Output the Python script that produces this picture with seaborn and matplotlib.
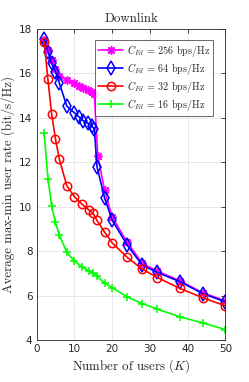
import matplotlib
matplotlib.use("Agg")
import matplotlib.pyplot as plt
import seaborn as sns
import pandas as pd

# ---- data ----
x_256 = [2, 3, 4, 5, 6, 8, 10, 11.2, 12.4, 13.7, 14.6, 15.3, 16.2, 18, 20, 24, 28, 32, 38, 44, 50]
y_256 = [17.5, 17.05, 16.6, 16.2, 15.9, 15.7, 15.55, 15.43, 15.35, 15.25, 15.15, 15.06, 12.3, 10.75, 9.55, 8.4, 7.45, 7.1, 6.66, 6.13, 5.76]

x_64 = [2, 3, 4, 5, 6, 8, 10, 11.2, 12.4, 13.7, 14.6, 15.3, 16.0, 18, 20, 24, 28, 32, 38, 44, 50]
y_64 = [17.55, 16.98, 16.45, 16.08, 15.58, 14.53, 14.23, 14.05, 13.87, 13.75, 13.64, 13.5, 11.8, 10.4, 9.4, 8.27, 7.37, 7.04, 6.62, 6.09, 5.72]

x_32 = [2, 3, 4, 5, 6, 8, 10, 12, 14, 15, 16, 18, 20, 24, 28, 32, 38, 44, 50]
y_32 = [17.43, 15.73, 14.16, 13.05, 12.16, 10.94, 10.45, 10.12, 9.83, 9.7, 9.38, 8.86, 8.38, 7.72, 7.19, 6.81, 6.32, 5.9, 5.54]

x_16 = [2, 3, 4, 5, 6, 8, 10, 12, 14, 15, 16, 18, 20, 24, 28, 32, 38, 44, 50]
y_16 = [13.3, 11.27, 10.03, 9.29, 8.73, 7.95, 7.55, 7.29, 7.1, 7.0, 6.87, 6.57, 6.36, 5.94, 5.64, 5.39, 5.04, 4.77, 4.47]

labels = [r"$C_{Fd}$ = 256 bps/Hz", r"$C_{Fd}$ = 64 bps/Hz",
          r"$C_{Fd}$ = 32 bps/Hz", r"$C_{Fd}$ = 16 bps/Hz"]
x_ticks = [0, 10, 20, 30, 40, 50]
y_ticks = [4, 6, 8, 10, 12, 14, 16, 18]

sns.set_style("white")
plt.rcParams["mathtext.fontset"] = "cm"
plt.rcParams["font.family"] = ["DejaVu Sans"]

fig = plt.figure(figsize=(2.49, 3.82), dpi=100)
ax = fig.add_axes([0.147, 0.110, 0.758, 0.814])

series = [
    (x_256, y_256, "#FF00FF", (8, 2, 0)),
    (x_64, y_64, "#0000FF", "d"),
    (x_32, y_32, "#FF0000", "o"),
    (x_16, y_16, "#00FF00", "+"),
]
msizes = [6, 7, 6, 6]
for (xs, ys, c, m), lab, ms in zip(series, labels, msizes):
    df = pd.DataFrame({"K": xs, "rate": ys})
    sns.lineplot(data=df, x="K", y="rate", ax=ax, color=c, marker=m,
                 markersize=ms, markerfacecolor="none", markeredgecolor=c,
                 markeredgewidth=1.1, linewidth=1.2, label=lab, sort=False,
                 errorbar=None)

ax.set_xlim(0, 50)
ax.set_ylim(4, 18)
ax.set_xticks(x_ticks)
ax.set_yticks(y_ticks)
ax.tick_params(labelsize=7.5, direction="in", top=True, right=True,
               length=3, width=0.6, colors="#262626", pad=3)
ax.grid(True, color="#e3e3e3", linewidth=0.6)
for s in ax.spines.values():
    s.set_color("#262626")
    s.set_linewidth(0.6)

serif = {"family": "cmr10"}
ax.set_title("Downlink", fontsize=9.3, fontdict=serif, pad=5)
ax.set_xlabel(r"Number of users ($K$)", fontsize=9.3, fontdict=serif, labelpad=2, color="#262626")
ax.set_ylabel("Average max-min user rate (bit/s/Hz)", fontsize=9.3, fontdict=serif, labelpad=3, color="#262626")

leg = ax.legend(loc="upper right", bbox_to_anchor=(0.936, 0.965),
                frameon=True, fancybox=False, edgecolor="#262626",
                borderpad=0.3, labelspacing=0.2, handlelength=2.5,
                handletextpad=0.35, borderaxespad=0.0,
                prop={"family": "cmr10", "size": 7.3})
leg.get_frame().set_linewidth(0.6)

fig.savefig("out.png", dpi=100)
